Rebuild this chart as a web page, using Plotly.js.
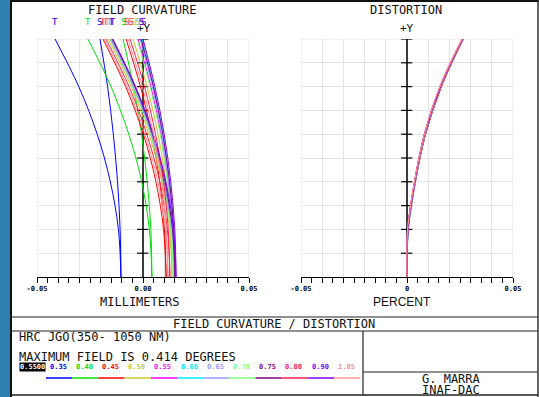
<!DOCTYPE html>
<html><head><meta charset="utf-8">
<script src="https://cdn.plot.ly/plotly-3.0.1.min.js"></script>
<style>html,body{margin:0;padding:0;background:#fff;overflow:hidden}#chart{width:539px;height:397px}</style>
</head><body><div id="chart"></div><script>
const W = 539, H = 397;

// relative field height (0 = axis, 1 = max field 0.414 deg)
const fieldH = [0, 0.2, 0.4, 0.6, 0.8, 1.0];

const waveLabels = ['0.35','0.40','0.45','0.50','0.55','0.60','0.65','0.70','0.75','0.80','0.90','1.05'];
const waveColors = ['#0000ff','#00e000','#ff0000','#c8c832','#ff00ff','#00e8f0','#9999ff','#80ff80','#800080','#ff2050','#8000ff','#ff9090'];

// field curvature, millimeters (tangential / sagittal)
const tan350 = [-0.0104,-0.0116,-0.0154,-0.0216,-0.0303,-0.0415];
const sag350 = [-0.0104,-0.0108,-0.0120,-0.0140,-0.0167,-0.0203];
const tan400 = [0.0042,0.0030,-0.0006,-0.0067,-0.0151,-0.0260];
const sag400 = [0.0042,0.0037,0.0020,-0.0007,-0.0045,-0.0094];
const tan450 = [0.0109,0.0097,0.0061,0.0002,-0.0082,-0.0189];
const sag450 = [0.0109,0.0101,0.0079,0.0041,-0.0012,-0.0080];
const tan500 = [0.0137,0.0125,0.0089,0.0028,-0.0056,-0.0165];
const sag500 = [0.0137,0.0130,0.0108,0.0071,0.0019,-0.0047];
const tan550 = [0.0146,0.0134,0.0098,0.0037,-0.0047,-0.0156];
const sag550 = [0.0146,0.0139,0.0119,0.0085,0.0037,-0.0024];
const tan600 = [0.0151,0.0139,0.0103,0.0044,-0.0039,-0.0146];
const sag600 = [0.0151,0.0145,0.0126,0.0095,0.0051,-0.0005];
const tan650 = [0.0146,0.0134,0.0098,0.0039,-0.0044,-0.0151];
const sag650 = [0.0146,0.0140,0.0120,0.0088,0.0044,-0.0014];
const tan700 = [0.0142,0.0130,0.0094,0.0035,-0.0049,-0.0156];
const sag700 = [0.0142,0.0135,0.0115,0.0081,0.0033,-0.0028];
const tan750 = [0.0151,0.0139,0.0104,0.0045,-0.0038,-0.0146];
const sag750 = [0.0151,0.0145,0.0125,0.0093,0.0049,-0.0009];
const tan800 = [0.0127,0.0115,0.0079,0.0018,-0.0066,-0.0175];
const sag800 = [0.0127,0.0119,0.0097,0.0059,0.0007,-0.0061];
const tan900 = [0.0156,0.0144,0.0108,0.0049,-0.0035,-0.0142];
const sag900 = [0.0156,0.0150,0.0131,0.0100,0.0056,0.0000];
const tan1050 = [0.0118,0.0106,0.0070,0.0009,-0.0075,-0.0184];
const sag1050 = [0.0118,0.0110,0.0088,0.0050,-0.0003,-0.0071];

// distortion, percent
const dist350 = [0,0.0006,0.0039,0.0087,0.0161,0.0262];
const dist400 = [0,0.0005,0.0038,0.0086,0.0160,0.0263];
const dist450 = [0,0.0005,0.0039,0.0087,0.0162,0.0266];
const dist500 = [0,0.0005,0.0038,0.0086,0.0160,0.0265];
const dist550 = [0,0.0005,0.0038,0.0085,0.0159,0.0264];
const dist600 = [0,0.0005,0.0037,0.0085,0.0158,0.0263];
const dist650 = [0,0.0004,0.0037,0.0084,0.0158,0.0263];
const dist700 = [0,0.0004,0.0037,0.0084,0.0157,0.0262];
const dist750 = [0,0.0004,0.0036,0.0083,0.0157,0.0262];
const dist800 = [0,0.0004,0.0036,0.0083,0.0156,0.0261];
const dist900 = [0,0.0004,0.0036,0.0082,0.0156,0.0261];
const dist1050 = [0,0.0003,0.0035,0.0082,0.0155,0.0260];

const tanAll = [tan350,tan400,tan450,tan500,tan550,tan600,tan650,tan700,tan750,tan800,tan900,tan1050];
const sagAll = [sag350,sag400,sag450,sag500,sag550,sag600,sag650,sag700,sag750,sag800,sag900,sag1050];
const distAll = [dist350,dist400,dist450,dist500,dist550,dist600,dist650,dist700,dist750,dist800,dist900,dist1050];

const axisTickVals = [-0.05,-0.04,-0.03,-0.02,-0.01,0,0.01,0.02,0.03,0.04,0.05];
const fcTickText = ['-0.05','','','','','0.00','','','','','0.05'];
const distTickText = ['-0.05','','','','','0','','','','','0.05'];

const px = x => x / W;
const py = y => 1 - y / H;
const MONO = 'DejaVu Sans Mono';

const traces = [];
const annotations = [];
for (let i = 0; i < waveLabels.length; i++) {
  traces.push({x: tanAll[i], y: fieldH, xaxis:'x', yaxis:'y', mode:'lines', line:{color:waveColors[i], width:1, shape:'spline'}, hoverinfo:'skip'});
  traces.push({x: sagAll[i], y: fieldH, xaxis:'x', yaxis:'y', mode:'lines', line:{color:waveColors[i], width:1, shape:'spline'}, hoverinfo:'skip'});
  annotations.push({text:'T', x: tanAll[i][tanAll[i].length-1], xref:'x', xanchor:'center', y: py(22), yref:'paper', yanchor:'middle', showarrow:false, font:{family:MONO, size:9, color:waveColors[i]}});
  annotations.push({text:'S', x: sagAll[i][sagAll[i].length-1], xref:'x', xanchor:'center', y: py(22), yref:'paper', yanchor:'middle', showarrow:false, font:{family:MONO, size:9, color:waveColors[i]}});
}
for (let i = 0; i < waveLabels.length; i++) {
  traces.push({x: distAll[i], y: fieldH, xaxis:'x2', yaxis:'y2', mode:'lines', line:{color:waveColors[i], width:1.2, shape:'spline'}, hoverinfo:'skip'});
}

function xAx(domain, ticktext, anchor) {
  return {domain: domain, range:[-0.05,0.05], anchor: anchor, tickmode:'array', tickvals: axisTickVals, ticktext: ticktext,
    showgrid:true, gridcolor:'#e4e4e4', gridwidth:1, zeroline:false, showline:true, linecolor:'#000', linewidth:1,
    ticks:'outside', ticklen:5, tickcolor:'#000', tickwidth:1,
    minor:{tickmode:'linear', tick0:0, dtick:0.005, ticks:'outside', ticklen:5, tickcolor:'#000', tickwidth:1, showgrid:false},
    tickfont:{family:MONO, size:7, color:'#000', weight:'bold'}, fixedrange:true};
}
function yAx(anchor) {
  return {domain:[py(277), py(39)], range:[0,1], anchor: anchor, tickmode:'linear', tick0:0, dtick:0.1,
    showgrid:true, gridcolor:'#e4e4e4', gridwidth:1, zeroline:false, showline:false, showticklabels:false, ticks:'', fixedrange:true};
}

const shapes = [];
[['x','y'],['x2','y2']].forEach(([xa,ya]) => {
  shapes.push({type:'line', xref:xa, yref:ya, x0:0.05, x1:0.05, y0:0, y1:1, line:{color:'#e4e4e4', width:1}, layer:'below'});
  shapes.push({type:'line', xref:xa, yref:ya, x0:-0.05, x1:0.05, y0:1, y1:1, line:{color:'#e4e4e4', width:1}, layer:'below'});
  shapes.push({type:'line', xref:xa, yref:ya, x0:-0.05, x1:-0.05, y0:0, y1:1, line:{color:'#e4e4e4', width:1}, layer:'below'});
  shapes.push({type:'line', xref:xa, yref:ya, x0:0, x1:0, y0:0, y1:1, line:{color:'#000', width:1.5}, layer:'between'});
  for (let k = 1; k <= 10; k++) {
    shapes.push({type:'line', xref:xa, yref:ya, x0:-0.0028, x1:0.0025, y0:k/10, y1:k/10, line:{color:'#000', width:1.2}, layer:'between'});
  }
});

const L = (x0,y0,x1,y1,w,c) => shapes.push({type:'line', xref:'paper', yref:'paper', x0:px(x0), y0:py(y0), x1:px(x1), y1:py(y1), line:{color:c||'#222', width:w||1}});
shapes.push({type:'rect', xref:'paper', yref:'paper', x0:0, x1:px(10), y0:0, y1:1, fillcolor:'#2f7fb4', line:{width:0}});
L(11,0,11,397,2,'#111');
L(11,1,539,1,2,'#111');
L(538,0,538,397,1.5,'#333');
L(11,317,538,317,1.2);
L(11,331,538,331,1.2);
L(11,395,538,395,1.5);
L(363,331,363,395,1.2);
L(363,372,538,372,1.2);

// legend
for (let i = 0; i < waveLabels.length; i++) {
  const x0 = 46 + i * 26.2;
  L(x0, 378, x0 + 26.2, 378, 1.5, waveColors[i]);
  annotations.push({text: waveLabels[i], x: px(x0 + 12), y: py(367), xref:'paper', yref:'paper', xanchor:'center', yanchor:'middle', showarrow:false,
    font:{family:MONO, size:7, color:waveColors[i], weight:'bold'}});
}
annotations.push({text:'0.5500', x: px(32), y: py(367), xref:'paper', yref:'paper', xanchor:'center', yanchor:'middle', showarrow:false, bgcolor:'#000',
  font:{family:MONO, size:7, color:'#fff', weight:'bold'}, borderpad:0});

const T = (text, x, y, opts) => annotations.push(Object.assign({text:text, x:px(x), y:py(y), xref:'paper', yref:'paper', xanchor:'center', yanchor:'middle', showarrow:false,
  font:{family:MONO, size:12, color:'#111'}}, opts||{}));
T('FIELD CURVATURE', 142, 10);
T('DISTORTION', 406, 10);
T('+Y', 144, 29, {font:{family:MONO, size:11, color:'#111'}});
T('+Y', 407, 29, {font:{family:MONO, size:11, color:'#111'}});
T('MILLIMETERS', 139, 302);
T('PERCENT', 402, 302, {font:{family:'Liberation Sans', size:12, color:'#111'}});
T('FIELD CURVATURE / DISTORTION', 274, 324);
T('HRC JGO(350- 1050 NM)', 17, 337, {xanchor:'left'});
T('MAXIMUM FIELD IS 0.414 DEGREES', 17, 357, {xanchor:'left'});
T('G. MARRA', 451, 379);
T('INAF-DAC', 451, 390);

const layout = {
  width: W, height: H, margin:{l:0,r:0,t:0,b:0}, paper_bgcolor:'#fff', plot_bgcolor:'rgba(0,0,0,0)', showlegend:false,
  xaxis: xAx([px(37), px(249)], fcTickText, 'y'),
  yaxis: yAx('x'),
  xaxis2: xAx([px(301), px(513)], distTickText, 'y2'),
  yaxis2: yAx('x2'),
  shapes: shapes, annotations: annotations
};
Plotly.newPlot('chart', traces, layout, {staticPlot:true, displayModeBar:false});
</script></body></html>
